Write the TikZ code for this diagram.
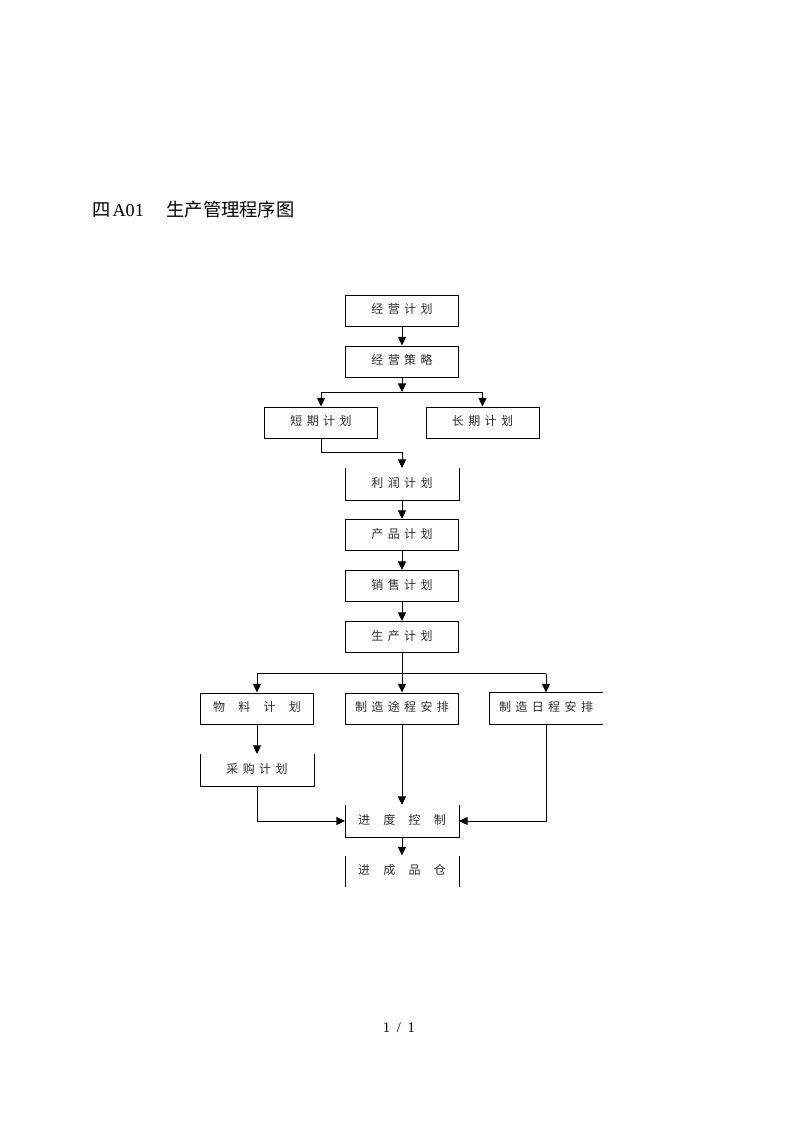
\documentclass[tikz,border=0pt]{standalone}
\usepackage{fontspec}
\setmainfont{Liberation Serif}
\newfontfamily\cjk{Noto Sans CJK SC}
\usetikzlibrary{arrows.meta, positioning}

% letter gaps inside the boxes
\newcommand{\sgap}{\hspace{3.3pt}}
\newcommand{\wgap}{\hspace{10pt}}

\begin{document}
\begin{tikzpicture}[
    x=0.75pt, y=-0.75pt,
    every node/.style={font=\cjk\fontsize{9pt}{11pt}\selectfont},
]

% ---------------------------------------------------------------- colours
\definecolor{linec}{HTML}{000000}   % frames and arrows
\definecolor{textc}{HTML}{2B2B2B}   % box labels

\tikzset{
    box/.style={rectangle, draw=linec, line width=0.7pt, text=textc,
                minimum width=84.75pt, minimum height=23.25pt, inner sep=0pt,
                text depth=2.6pt},
    slot/.style={box, draw=none},
    edge/.style={draw=linec, line width=0.7pt},
    arr/.style={edge, -{Triangle[length=6.5pt, width=6pt]}},
}

% ================================================================
% GEOMETRY (pixels of the page, y down)
%   main column        x = 402
%   side columns       x = 257 (left), 546 (right)
%   rows               y = 310, 361, 422, 484, 535, 586, 637, 708, 770, 821, 871
% ================================================================
\useasboundingbox (0,0) rectangle (793,1122);

% ---------------------------------------------------------------- title
\node[font=\fontsize{13.7pt}{16pt}\selectfont, anchor=west, inner sep=0pt]
    (title) at (92, 210)
    {{\cjk 四}\hspace{1.5pt}A01\hspace{17pt}{\cjk 生产管理程序图}};

% ---------------------------------------------------------------- boxes
\node[box]  (plan)     at (402, 310.5) {经\sgap 营\sgap 计\sgap 划};
\node[box]  (strat)    at (402, 361.5) {经\sgap 营\sgap 策\sgap 略};
\node[box]  (short)    at (321, 422.5) {短\sgap 期\sgap 计\sgap 划};
\node[box]  (long)     at (482.5, 422.5) {长\sgap 期\sgap 计\sgap 划};
\node[slot] (profit)   at (402, 484) {利\sgap 润\sgap 计\sgap 划};
\node[box]  (product)  at (402, 535) {产\sgap 品\sgap 计\sgap 划};
\node[box]  (sales)    at (402, 586) {销\sgap 售\sgap 计\sgap 划};
\node[box]  (prodplan) at (402, 637) {生\sgap 产\sgap 计\sgap 划};
\node[box]  (material) at (257, 708.5) {物\wgap 料\wgap 计\wgap 划};
\node[box]  (route)    at (402, 708.5)
    {制\sgap 造\sgap 途\sgap 程\sgap 安\sgap 排};
\node[slot] (sched)    at (546, 708.5)
    {制\sgap 造\sgap 日\sgap 程\sgap 安\sgap 排};
\node[slot] (purchase) at (257, 770) {采\sgap 购\sgap 计\sgap 划};
\node[slot] (control)  at (402, 821) {进\wgap 度\wgap 控\wgap 制};
\node[slot] (stock)    at (402, 871.5) {进\wgap 成\wgap 品\wgap 仓};

% open frames
\draw[edge] (profit.north west) -- (profit.south west)
    -- (profit.south east) -- (profit.north east);
\draw[edge] (purchase.north west) -- (purchase.south west)
    -- (purchase.south east) -- (purchase.north east);
\draw[edge] (control.north west) -- (control.south west)
    -- (control.south east) -- (control.north east);
\draw[edge] (sched.north east) -- (sched.north west)
    -- (sched.south west) -- (sched.south east);
\draw[edge] (stock.north west) -- (stock.south west);
\draw[edge] (stock.north east) -- (stock.south east);

% ---------------------------------------------------------------- arrows
\coordinate (split) at (402, 392);
\draw[arr] (plan) -- (strat);
\draw[arr] (strat) -- (split);
\draw[edge] (split -| short) -- (split -| long);
\draw[arr] (split -| short) -- (short);
\draw[arr] (split -| long) -- (long);
\draw[arr] (short.south) -- ++(0,13.5) -| (profit.north);

\draw[arr] (profit) -- (product);
\draw[arr] (product) -- (sales);
\draw[arr] (sales) -- (prodplan);

\coordinate (split2) at (402, 673.5);
\draw[arr] (prodplan) -- (route);
\draw[edge] (split2 -| material) -- (split2 -| sched);
\draw[arr] (split2 -| material) -- (material);
\draw[arr] (split2 -| sched) -- (sched);

\draw[arr] (material) -- (purchase);
\draw[arr] (purchase.south) |- (control.west);
\draw[arr] (route) -- (control);
\draw[arr] (sched.south) |- (control.east);
\draw[arr] (control) -- (stock);

% ---------------------------------------------------------------- page number
\node[font=\fontsize{11pt}{13pt}\selectfont] (pageno) at (399, 1028)
    {1\hspace{5pt}/\hspace{5pt}1};

\end{tikzpicture}
\end{document}
